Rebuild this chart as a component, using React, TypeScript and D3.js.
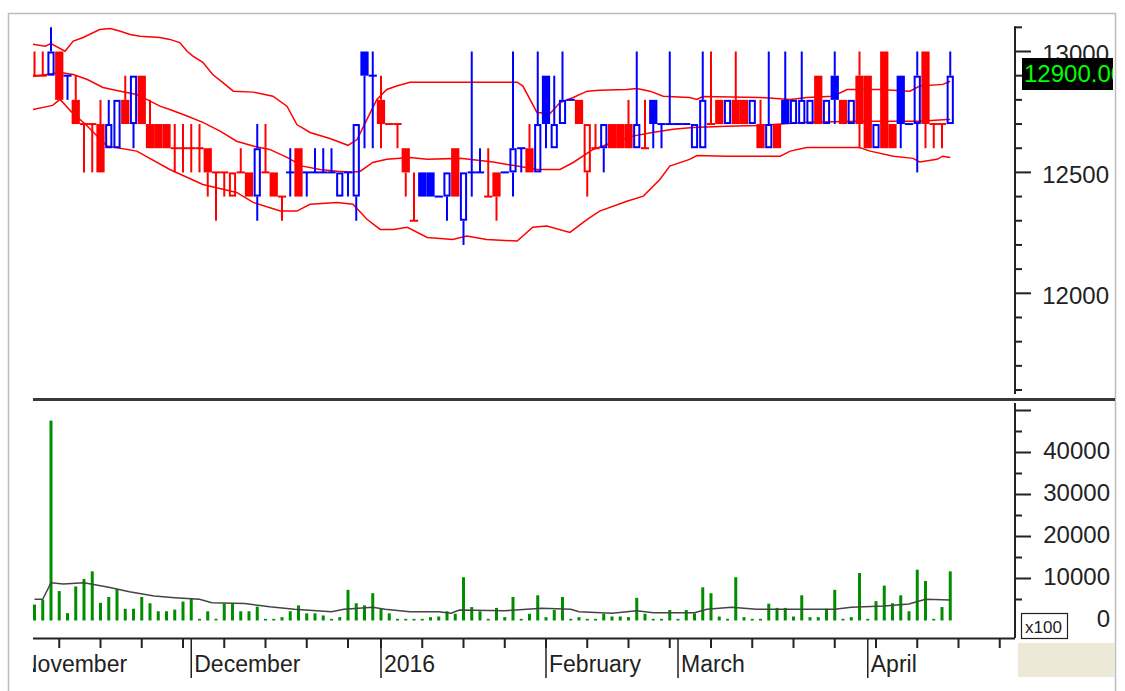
import React from "react";
import * as d3 from "d3";

// ---- data (price in VND, volume in x100 shares) ----
const opens = [
  12900,12900,12900,13000,12900,12800,12700,12700,12700,12600,
  12600,12800,12700,12900,12700,12700,12700,12600,12600,12600,
  12600,12600,12500,12500,12400,12500,12500,12400,12500,12500,
  12400,12500,12600,12500,12500,12500,12500,12400,12500,12400,
  13000,12900,12800,12700,12700,12600,12300,12500,12500,12400,
  12400,12600,12300,12500,12500,12400,12500,12500,12500,12600,
  12600,12500,12900,12600,12700,12800,12800,12500,12600,12600,
  12700,12700,12700,12600,12600,12800,12700,12700,12700,12700,
  12600,12600,12700,12800,12700,12800,12800,12700,12700,12600,
  12700,12800,12700,12700,12700,12900,12700,12900,12800,12700,
  12900,12900,12600,13000,12700,12900,12700,12700,13000,12700,
  12700,12700];
const highs = [
  13000,13000,13100,13000,12900,12900,12700,12700,12800,12800,
  12800,12900,12900,12900,12800,12700,12700,12700,12700,12700,
  12700,12600,12500,12500,12500,12600,12500,12700,12700,12500,
  12400,12600,12600,12500,12600,12600,12600,12500,12500,12700,
  13000,13000,12900,12700,12700,12600,12500,12500,12500,12400,
  12500,12600,12500,13000,12600,12600,12500,12500,13000,12600,
  12700,13000,12900,12900,13000,12800,12800,12700,12700,12700,
  12700,12700,12800,13000,12800,12800,12700,13000,12700,12700,
  12700,13000,13000,12800,12800,13000,12800,12800,12800,13000,
  12700,13000,12800,13000,12800,12900,12800,13000,12800,12800,
  13000,12900,12700,13000,12700,12900,12700,13000,13000,12700,
  12700,13000];
const lows = [
  12900,12900,12900,12800,12800,12700,12500,12500,12500,12600,
  12600,12700,12600,12700,12600,12600,12600,12500,12500,12500,
  12500,12400,12300,12400,12400,12500,12400,12300,12500,12400,
  12300,12400,12400,12400,12500,12500,12500,12400,12400,12300,
  12600,12600,12600,12700,12600,12400,12300,12400,12400,12400,
  12300,12400,12200,12400,12500,12400,12300,12500,12400,12500,
  12500,12500,12600,12600,12700,12800,12700,12400,12600,12500,
  12600,12600,12600,12600,12600,12600,12600,12700,12700,12700,
  12600,12600,12700,12700,12700,12700,12700,12700,12600,12600,
  12600,12700,12700,12700,12700,12700,12700,12700,12700,12700,
  12600,12600,12600,12600,12600,12600,12700,12500,12600,12600,
  12600,12700];
const closes = [
  12900,12900,13000,12800,12900,12700,12700,12700,12500,12700,
  12800,12700,12900,12700,12600,12600,12600,12600,12600,12600,
  12600,12500,12500,12500,12500,12500,12400,12600,12500,12400,
  12400,12500,12400,12500,12500,12500,12500,12500,12500,12700,
  12900,12900,12700,12700,12700,12500,12300,12400,12400,12400,
  12500,12400,12500,12500,12500,12400,12400,12500,12600,12600,
  12500,12700,12700,12700,12800,12800,12700,12700,12600,12700,
  12600,12600,12600,12700,12600,12700,12700,12700,12700,12700,
  12700,12800,12700,12700,12800,12700,12700,12800,12600,12700,
  12600,12700,12800,12800,12800,12700,12800,12800,12700,12800,
  12700,12600,12700,12600,12600,12700,12700,12900,12700,12700,
  12700,12900];
const volumes = [
  3800,4900,47600,7000,1750,8100,9900,11700,4200,5600,
  7500,2800,2800,5600,4100,2200,2200,2600,4500,5200,
  400,2200,400,4000,4000,2200,2200,3300,400,400,
  800,2200,3600,1700,1700,1200,400,800,7300,4100,
  3600,6500,2800,1700,400,400,400,400,800,950,
  2200,1600,10300,3200,2200,400,3000,800,5600,400,
  1600,6000,800,2500,5600,400,800,400,400,1600,
  950,950,800,5400,1600,400,400,2500,400,2500,
  1700,7900,6500,950,400,10300,800,400,400,4000,
  3000,3000,950,6000,800,800,2800,7300,400,800,
  11300,400,4600,8300,4100,6000,2200,12100,9400,400,
  3200,11700];

// Bollinger bands: [trading-day index, price]
const upperBand: [number, number][] = [
  [-0.2,13030],[1.3,13022],[2,13033],[3.7,13001],[4.7,13043],[5.9,13058],[7.9,13091],[9.2,13095],
  [10.4,13084],[11.6,13070],[12.8,13063],[15.2,13058],[16.4,13050],[17.6,13037],[18.5,13001],
  [19.2,12981],[20.4,12955],[21.6,12905],[22.8,12872],[24.1,12836],[26.5,12832],[28.9,12815],
  [30.6,12774],[31.8,12698],[33.4,12665],[35.8,12640],[38,12612],[39.1,12636],[40.3,12719],
  [41.5,12802],[42.7,12843],[43.9,12857],[45.5,12873],[58.5,12873],[59.2,12857],[60.9,12748],
  [62.5,12744],[63.7,12789],[65.3,12810],[67,12836],[68.5,12840],[71.8,12843],[73,12847],
  [74.6,12836],[76.2,12815],[79.4,12810],[80.3,12802],[81,12814],[87.9,12810],[91.6,12802],
  [93.6,12810],[96.8,12815],[98.5,12843],[102.5,12843],[106.1,12836],[107.3,12857],[110.1,12864],[111,12877]];
const middleBand: [number, number][] = [
  [-0.2,12897],[3.1,12913],[4.7,12905],[6.4,12884],[8.3,12851],[10.4,12836],[12.4,12822],[13.6,12802],
  [15.2,12774],[16.4,12760],[18.5,12733],[20.4,12707],[22.5,12671],[24.5,12629],[26.5,12609],
  [28.5,12595],[30.6,12562],[32.5,12526],[34.6,12512],[36.7,12505],[38.6,12501],[39.5,12505],
  [41,12541],[42.7,12554],[45.5,12562],[47.6,12554],[51.6,12558],[55.6,12543],[58.5,12526],
  [60.9,12512],[63.7,12512],[65.3,12541],[67.7,12595],[70.1,12624],[72.5,12650],[74.9,12665],
  [77.4,12678],[79.8,12686],[83.9,12691],[87.9,12694],[93.6,12707],[100,12712],[107.3,12712],[110.6,12719],[111,12719]];
const lowerBand: [number, number][] = [
  [-0.2,12760],[2.2,12777],[3.1,12802],[4.4,12753],[6.2,12698],[8.8,12609],[12.4,12588],[16.4,12512],
  [20.4,12450],[24.5,12417],[26.5,12376],[29.8,12340],[31.8,12340],[33.4,12368],[36.7,12376],
  [38.6,12368],[40.3,12306],[41.9,12264],[43.5,12264],[45.2,12273],[47.6,12231],[50.7,12223],
  [52.4,12237],[54.8,12223],[58.5,12216],[60.4,12273],[62.1,12278],[64.9,12252],[67,12306],
  [68.5,12340],[71.8,12381],[73.8,12402],[75.8,12471],[77,12526],[79.4,12554],[80.3,12570],
  [83.9,12567],[90.4,12567],[91.6,12588],[93.6,12603],[100,12603],[101.3,12588],[104.1,12567],
  [106.5,12558],[107.3,12543],[109.4,12554],[110.1,12567],[111,12562]];
const volumeAvg: [number, number][] = [
  [0,5050],[1,5050],[2,9000],[3.5,8700],[6,9000],[9,7900],[11.5,6850],[14.5,5830],[17,5430],
  [20,5050],[21.5,4240],[25.5,4070],[28.5,3260],[31.5,2670],[36,2100],[37.5,2670],[41,3140],
  [42.5,2670],[45.5,2100],[49,2100],[50.5,1710],[51.5,2500],[57,2330],[61.5,2900],[65,2670],
  [66,2100],[70,1710],[73,2330],[75,1860],[80,1860],[81.5,2670],[84.5,3140],[87.5,2670],
  [97,2670],[99,3140],[103,3450],[106,3930],[108,5050],[111,4880]];

const monthLabels = ["November", "December", "2016", "February", "March", "April"];
const monthStartIdx = [-2, 19, 42, 62, 78, 101];
const weekTickIdx = [3,8,13,18,23,28,33,38,42,47,52,57,62,67,72,77,82,87,92,97,102,107,112,117];
const priceTicks = [11600,11700,11800,11900,12000,12100,12200,12300,12400,12500,12600,12700,12800,12900,13000,13100];
const priceLabels = [12000, 12500, 13000];
const volTicks = [5000,10000,15000,20000,25000,30000,35000,40000,45000,50000];
const volLabels = [10000, 20000, 30000, 40000];
const lastPriceText = "12900.00";

const RED = "#ff0000";
const BLUE = "#0000ff";
const GREEN = "#008e00";
const FONT = "'Liberation Sans', Arial, Helvetica, sans-serif";

export default function App() {
  const xs = d3.scaleLinear().domain([0, 111]).range([34.5, 950.25]);
  const yP = d3.scaleLinear().domain([12000, 13000]).range([293.3, 51.5]);
  const yV = d3.scaleLinear().domain([0, 40000]).range([620.5, 452.5]);
  const step = xs(1) - xs(0);

  const bandLine = d3.line<[number, number]>().x((d) => xs(d[0])).y((d) => yP(d[1]));
  const volLine = d3.line<[number, number]>().x((d) => xs(d[0])).y((d) => yV(d[1]));

  // colour: vs previous close (unchanged keeps previous colour)
  const colors: string[] = [];
  closes.forEach((c, i) => {
    if (i === 0) colors.push(RED);
    else if (c > closes[i - 1]) colors.push(BLUE);
    else if (c < closes[i - 1]) colors.push(RED);
    else colors.push(colors[i - 1]);
  });

  const candles = opens.map((o, i) => {
    const c = closes[i];
    const x = xs(i);
    const col = colors[i];
    const yH = yP(highs[i]);
    const yL = yP(lows[i]);
    const yO = yP(o);
    const yC = yP(c);
    const top = Math.min(yO, yC);
    const bot = Math.max(yO, yC);
    const els: React.ReactNode[] = [];
    if (o === c) {
      els.push(<line key="w" x1={x} x2={x} y1={yH} y2={yL} stroke={col} strokeWidth={2} />);
      els.push(<line key="f" x1={x - step / 2} x2={x + step / 2} y1={yC} y2={yC} stroke={col} strokeWidth={2} />);
    } else {
      if (yH < top) els.push(<line key="u" x1={x} x2={x} y1={yH} y2={top} stroke={col} strokeWidth={2} />);
      if (yL > bot) els.push(<line key="d" x1={x} x2={x} y1={bot} y2={yL} stroke={col} strokeWidth={2} />);
      if (c < o) {
        els.push(<rect key="b" x={x - step / 2} y={top} width={step} height={bot - top} fill={col} />);
      } else {
        els.push(<rect key="b" x={x - 2.6} y={top + 1} width={5.2} height={bot - top - 2} fill="none" stroke={col} strokeWidth={2} />);
      }
    }
    return <g key={i}>{els}</g>;
  });

  const bars = volumes.map((v, i) => (
    <rect key={i} x={xs(i) - 1.5} width={3} y={yV(v)} height={yV(0) - yV(v)} fill={GREEN} />
  ));

  const axisX = 1015;

  return (
    <svg width={1125} height={691} style={{ position: "absolute", left: 0, top: 0, background: "#fff" }} fontFamily={FONT}>
      <defs>
        <clipPath id="plotClip"><rect x={33} y={14} width={982} height={382} /></clipPath>
        <clipPath id="volClip"><rect x={33} y={402} width={982} height={236} /></clipPath>
        <clipPath id="dateClip"><rect x={33} y={639} width={982} height={45} /></clipPath>
        <clipPath id="lastClip"><rect x={1022} y={58} width={91} height={32} /></clipPath>
      </defs>
      <rect x={0} y={0} width={1125} height={691} fill="#fff" />
      {/* outer frame */}
      <path d="M8.5,691 L8.5,13.5 L1115.5,13.5 L1115.5,691" fill="none" stroke="#bdbdbd" strokeWidth={1.5} />

      {/* price panel */}
      <g clipPath="url(#plotClip)">
        <path d={bandLine(upperBand) || ""} fill="none" stroke={RED} strokeWidth={1.5} />
        <path d={bandLine(middleBand) || ""} fill="none" stroke={RED} strokeWidth={1.5} />
        <path d={bandLine(lowerBand) || ""} fill="none" stroke={RED} strokeWidth={1.5} />
        {candles}
      </g>

      {/* price axis */}
      <line x1={axisX} x2={axisX} y1={yP(13100) - 1} y2={394} stroke="#222" strokeWidth={2} />
      {priceTicks.map((t) => (
        <line key={t} x1={axisX} x2={axisX + (t % 500 === 0 ? 16 : 7)} y1={yP(t)} y2={yP(t)} stroke="#222" strokeWidth={2} />
      ))}
      {priceLabels.map((t) => (
        <text key={t} x={1109} y={yP(t) + 4} textAnchor="end" dominantBaseline="middle" fontSize={24} fill="#222">{t}</text>
      ))}
      <rect x={1022} y={58} width={91} height={32} fill="#000" />
      <g clipPath="url(#lastClip)">
        <text x={1024} y={82} fontSize={24} fill="#00ff00">{lastPriceText}</text>
      </g>

      {/* divider */}
      <line x1={33} x2={1115} y1={399.5} y2={399.5} stroke="#3a3a35" strokeWidth={3} />

      {/* volume panel */}
      <g clipPath="url(#volClip)">
        {bars}
        <path d={volLine(volumeAvg) || ""} fill="none" stroke="#444" strokeWidth={1.5} />
      </g>
      <line x1={axisX} x2={axisX} y1={403} y2={638} stroke="#222" strokeWidth={2} />
      {volTicks.map((t) => (
        <line key={t} x1={axisX} x2={axisX + (t % 10000 === 0 ? 16 : 7)} y1={yV(t)} y2={yV(t)} stroke="#222" strokeWidth={2} />
      ))}
      {volLabels.map((t) => (
        <text key={t} x={1110} y={yV(t)} textAnchor="end" dominantBaseline="middle" fontSize={24} fill="#222">{t}</text>
      ))}
      <text x={1110} y={yV(0)} textAnchor="end" dominantBaseline="middle" fontSize={24} fill="#222">0</text>
      <rect x={1021.5} y={613.5} width={46} height={25} fill="#fff" stroke="#222" strokeWidth={1.2} />
      <text x={1025} y={633} fontSize={17} fill="#222">x100</text>
      <rect x={1018} y={643} width={97} height={34} fill="#ece9d8" />

      {/* date axis */}
      <line x1={33} x2={axisX} y1={638.5} y2={638.5} stroke="#222" strokeWidth={2} />
      <g clipPath="url(#dateClip)">
        {weekTickIdx.map((t) => (
          <line key={t} x1={xs(t)} x2={xs(t)} y1={639} y2={648} stroke="#222" strokeWidth={2} />
        ))}
        {monthStartIdx.map((m, k) => (
          <g key={k}>
            <line x1={xs(m)} x2={xs(m)} y1={639} y2={678} stroke="#222" strokeWidth={1.5} />
            <text x={xs(m) + 3} y={672} fontSize={23} fill="#222">{monthLabels[k]}</text>
          </g>
        ))}
      </g>
    </svg>
  );
}
